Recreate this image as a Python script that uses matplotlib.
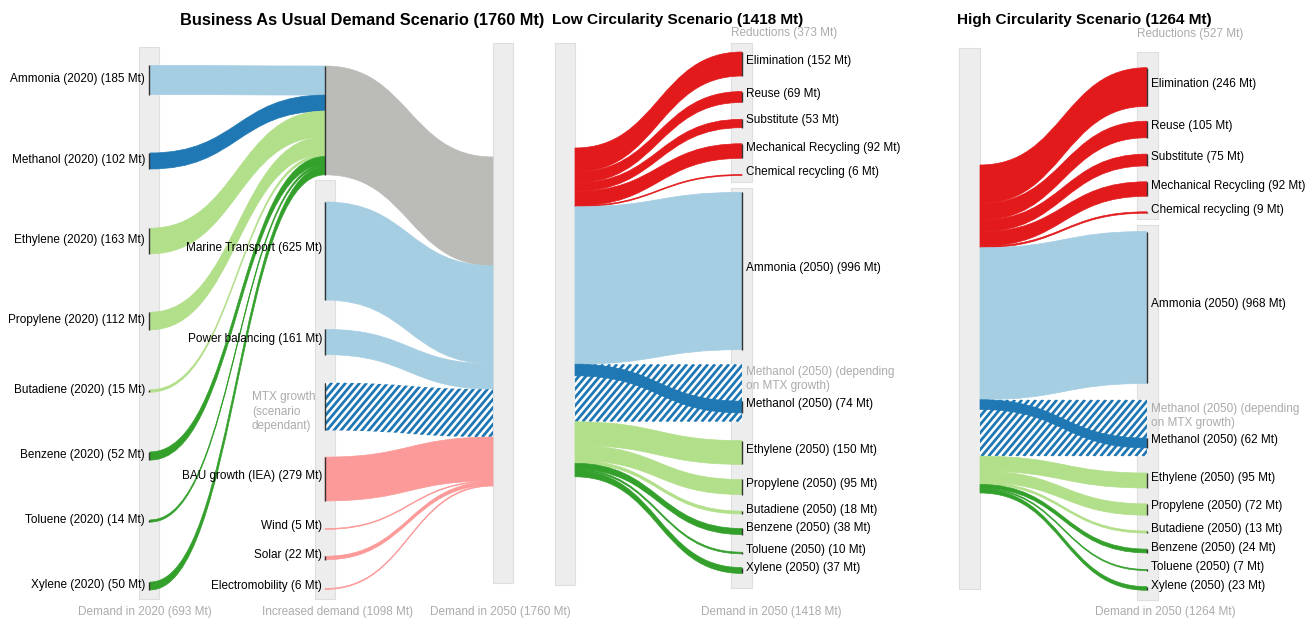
import numpy as np
import matplotlib
matplotlib.use("Agg")
import matplotlib.pyplot as plt
from matplotlib.path import Path
from matplotlib.patches import PathPatch, Rectangle
from matplotlib.collections import LineCollection

plt.rcParams['font.family'] = ['Liberation Sans', 'DejaVu Sans']

# ---------------- DATA ----------------
scenario_titles = ["Business As Usual Demand Scenario", "Low Circularity Scenario", "High Circularity Scenario"]
scenario_totals = [1760, 1418, 1264]

products = ["Ammonia", "Methanol", "Ethylene", "Propylene", "Butadiene", "Benzene", "Toluene", "Xylene"]
demand_2020 = [185, 102, 163, 112, 15, 52, 14, 50]

growth_names = ["Marine Transport", "Power balancing", "MTX growth", "BAU growth (IEA)", "Wind", "Solar", "Electromobility"]
growth_values = [625, 161, 0, 279, 5, 22, 6]     # MTX growth: scenario dependant (no value)
increased_total = 1098
mtx_placeholder = [305, 365, 360]                # estimated visual width of hatched MTX band

reduction_names = ["Elimination", "Reuse", "Substitute", "Mechanical Recycling", "Chemical recycling"]
low_reductions = [152, 69, 53, 92, 6]
high_reductions = [246, 105, 75, 92, 9]
reduction_totals = [373, 527]

low_2050 = [996, 74, 150, 95, 18, 38, 10, 37]
high_2050 = [968, 62, 95, 72, 13, 24, 7, 23]

# ---------------- STYLE ----------------
product_colors = ['#a6cee3', '#1f78b4', '#b2df8a', '#b2df8a', '#b2df8a', '#33a02c', '#33a02c', '#33a02c']
growth_colors = ['#a6cee3', '#a6cee3', '#1f78b4', '#fb9a99', '#fb9a99', '#fb9a99', '#fb9a99']
GRAY = '#bbbcb8'
RED = '#e31a1c'
BAR_FACE = '#ededed'
BAR_EDGE = '#dedede'
NODE_C = '#333333'
LIGHT_TXT = '#ababab'
FS = 8.5
TITLE_FS = [11.8, 11.1, 11.1]
STRIPE_GAP = 7.0      # px, horizontal distance between hatch stripes
STRIPE_ANGLE = 50     # degrees
STRIPE_LW = 2.0       # points

# ---------------- LAYOUT (pixel space) ----------------
W, H = 1305, 619
SCALE = [0.157, 0.158, 0.157]
# BAU panel
BX = [149, 325, 493]
col1_centers = [80, 161, 241, 321, 391, 456, 521, 586]
agg_top = 66
col2_centers = [251, 342, 406.5, 479, 529, 558, 589]
col3_top = 157
# circularity panels
PX = [(575, 742), (980, 1147)]
left_top = [148, 165]
red_centers = [[64, 97, 123.5, 151, 175], [87, 129.5, 160, 189, 212.5]]
prod_centers = [[271, 407, 452.5, 487, 512.5, 531.5, 553, 570.5],
                [307.5, 443, 480.5, 509.5, 532, 551, 570, 588.5]]
mtx_label_y = [379, 416]
bars = [(139, 47, 159, 599), (315, 180, 335, 599), (493, 43, 513, 583),
        (555, 43, 575, 585), (731, 43, 752, 182), (731, 188, 752, 588),
        (959, 48, 980, 589), (1137, 52, 1158, 219), (1137, 225, 1158, 600)]
title_left = [180, 552, 957]

fig = plt.figure(figsize=(W / 100, H / 100), dpi=100)
ax = fig.add_axes([0, 0, 1, 1])
ax.set_xlim(0, W)
ax.set_ylim(H, 0)
ax.axis('off')


def ribbon(x0, a0, b0, x1, a1, b1, color, hatch=False, z=2):
    xm = (x0 + x1) / 2
    verts = [(x0, a0), (xm, a0), (xm, a1), (x1, a1), (x1, b1),
             (xm, b1), (xm, b0), (x0, b0), (x0, a0)]
    codes = [Path.MOVETO, Path.CURVE4, Path.CURVE4, Path.CURVE4, Path.LINETO,
             Path.CURVE4, Path.CURVE4, Path.CURVE4, Path.CLOSEPOLY]
    path = Path(verts, codes)
    if hatch:
        p = PathPatch(path, facecolor='white', edgecolor='none', lw=0, zorder=z)
        ax.add_patch(p)
        ymin, ymax = min(a0, a1), max(b0, b1)
        dx = (ymax - ymin) / np.tan(np.radians(STRIPE_ANGLE))
        xs = np.arange(x0 - dx - STRIPE_GAP, x1 + STRIPE_GAP, STRIPE_GAP)
        segs = [[(x, ymax), (x + dx, ymin)] for x in xs]
        lc = LineCollection(segs, colors=color, linewidths=STRIPE_LW, zorder=z)
        ax.add_collection(lc)
        lc.set_clip_path(p)
    else:
        p = PathPatch(path, facecolor=color, edgecolor=color, lw=0.5, zorder=z)
        ax.add_patch(p)


def node_line(x, a, b):
    ax.plot([x, x], [a, b], color=NODE_C, lw=1.0, zorder=5, solid_capstyle='butt')


for (x0, y0, x1, y1) in bars:
    ax.add_patch(Rectangle((x0, y0), x1 - x0, y1 - y0, facecolor=BAR_FACE,
                           edgecolor=BAR_EDGE, lw=0.8, zorder=1))

# ---------------- BAU panel ----------------
s = SCALE[0]
agg_h = sum(demand_2020) * s
# aggregate -> 2050
ribbon(BX[1], agg_top, agg_top + agg_h, BX[2], col3_top, col3_top + agg_h, GRAY)
y3 = col3_top + agg_h
for j, (name, v) in enumerate(zip(growth_names, growth_values)):
    hatched = (name == "MTX growth")
    h = (mtx_placeholder[0] if hatched else v) * s
    a0 = col2_centers[j] - h / 2
    ribbon(BX[1], a0, a0 + h, BX[2], y3, y3 + h, growth_colors[j], hatch=hatched)
    node_line(BX[1], a0, a0 + h)
    y3 += h
    if hatched:
        ax.text(252, col2_centers[j] + 5, "MTX growth\n(scenario\ndependant)", color=LIGHT_TXT,
                fontsize=FS, ha='left', va='center', zorder=6, linespacing=1.25)
    else:
        ax.text(BX[1] - 3, col2_centers[j] - 3, f"{name} ({v} Mt)", fontsize=FS,
                ha='right', va='center', zorder=6)
# 2020 -> aggregate
ya = agg_top
for i, (p, v) in enumerate(zip(products, demand_2020)):
    h = v * s
    a0 = col1_centers[i] - h / 2
    ribbon(BX[0] + 1, a0, a0 + h, BX[1], ya, ya + h, product_colors[i], z=3)
    node_line(BX[0], a0, a0 + h)
    ax.text(BX[0] - 4, col1_centers[i] - 1, f"{p} (2020) ({v} Mt)", fontsize=FS,
            ha='right', va='center', zorder=6)
    ya += h
node_line(BX[1], agg_top, ya)

ax.text(145, 612, f"Demand in 2020 ({sum(demand_2020)} Mt)", color=LIGHT_TXT, fontsize=FS, ha='center', va='center')
ax.text(338, 612, f"Increased demand ({increased_total} Mt)", color=LIGHT_TXT, fontsize=FS, ha='center', va='center')
ax.text(500, 612, f"Demand in 2050 ({scenario_totals[0]} Mt)", color=LIGHT_TXT, fontsize=FS, ha='center', va='center')

# ---------------- Circularity panels ----------------
for k, (reds, prods) in enumerate([(low_reductions, low_2050), (high_reductions, high_2050)]):
    s = SCALE[k + 1]
    xl, xr = PX[k]
    y = left_top[k]
    for r, (name, v) in enumerate(zip(reduction_names, reds)):
        h = v * s
        c = red_centers[k][r]
        ribbon(xl, y, y + h, xr, c - h / 2, c + h / 2, RED)
        node_line(xr, c - h / 2, c + h / 2)
        ax.text(xr + 4, c - 3, f"{name} ({v} Mt)", fontsize=FS, ha='left', va='center', zorder=6)
        y += h
    for i, (p, v) in enumerate(zip(products, prods)):
        h = v * s
        c = prod_centers[k][i]
        if p == "Methanol":
            hm = mtx_placeholder[k + 1] * s
            ribbon(xl, y, y + hm, xr, y, y + hm, '#1f78b4', hatch=True)
            ribbon(xl, y, y + h, xr, c - h / 2, c + h / 2, product_colors[i])
            ax.text(xr + 4, mtx_label_y[k], "Methanol (2050) (depending\non MTX growth)",
                    color=LIGHT_TXT, fontsize=FS, ha='left', va='center', zorder=6, linespacing=1.2)
            y += hm
        else:
            ribbon(xl, y, y + h, xr, c - h / 2, c + h / 2, product_colors[i])
            y += h
        node_line(xr, c - h / 2, c + h / 2)
        ax.text(xr + 4, c - 3, f"{p} (2050) ({v} Mt)", fontsize=FS, ha='left', va='center', zorder=6)
    bx = bars[4 + 3 * k][0]
    ax.text(bx, 33 + k, f"Reductions ({reduction_totals[k]} Mt)", color=LIGHT_TXT,
            fontsize=FS, ha='left', va='center')
    ax.text([771, 1165][k], 612, f"Demand in 2050 ({scenario_totals[k + 1]} Mt)",
            color=LIGHT_TXT, fontsize=FS, ha='center', va='center')

for t, tot, tx, fs in zip(scenario_titles, scenario_totals, title_left, TITLE_FS):
    ax.text(tx, 20, f"{t} ({tot} Mt)", fontsize=fs, fontweight='bold', ha='left', va='center')

fig.savefig('out.png', dpi=100)
